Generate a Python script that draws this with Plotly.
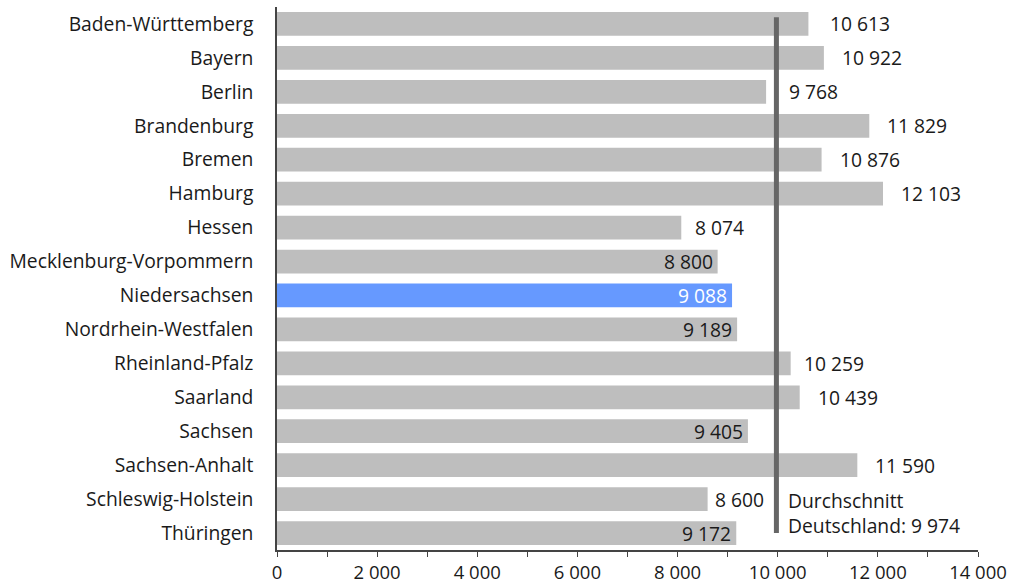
import plotly.graph_objects as go

# Bundesländer und Werte (Reihenfolge von oben nach unten)
laender = [
    "Baden-Württemberg", "Bayern", "Berlin", "Brandenburg", "Bremen", "Hamburg",
    "Hessen", "Mecklenburg-Vorpommern", "Niedersachsen", "Nordrhein-Westfalen",
    "Rheinland-Pfalz", "Saarland", "Sachsen", "Sachsen-Anhalt",
    "Schleswig-Holstein", "Thüringen",
]
werte = [10613, 10922, 9768, 11829, 10876, 12103, 8074, 8800, 9088, 9189,
         10259, 10439, 9405, 11590, 8600, 9172]
durchschnitt = 9974
hervorgehoben = "Niedersachsen"
x_ticks = [0, 2000, 4000, 6000, 8000, 10000, 12000, 14000]

GRAU = "#bebebe"
BLAU = "#6699ff"
TEXT = "#1a1a1a"
FONT = "Open Sans"
FS = 19.3

# Beschriftungen, die im Balken stehen (sonst kollidieren sie mit der Linie)
innen_beschriftet = {"Mecklenburg-Vorpommern", "Niedersachsen",
                     "Nordrhein-Westfalen", "Sachsen", "Thüringen"}
# Abstand der Außenbeschriftung zum Balkenende (px)
abstand = {"Hessen": 12, "Schleswig-Holstein": 5, "Rheinland-Pfalz": 11,
           "Berlin": 21, "Baden-Württemberg": 20}


def fmt(v):
    return f"{v:,}".replace(",", " ")


farben = [BLAU if l == hervorgehoben else GRAU for l in laender]

fig = go.Figure()
fig.add_trace(go.Bar(
    y=laender, x=werte, orientation="h",
    marker=dict(color=farben, line=dict(width=0)),
    hoverinfo="skip",
))

annotations = []
for l, v in zip(laender, werte):
    if l in innen_beschriftet:
        annotations.append(dict(
            x=v, y=l, xref="x", yref="y", text=fmt(v), showarrow=False,
            xanchor="right", xshift=-3,
            font=dict(family=FONT, size=FS, color="white" if l == hervorgehoben else TEXT),
        ))
    else:
        annotations.append(dict(
            x=v, y=l, xref="x", yref="y", text=fmt(v), showarrow=False,
            xanchor="left", xshift=abstand.get(l, 16),
            font=dict(family=FONT, size=FS, color=TEXT),
        ))

annotations.append(dict(
    x=durchschnitt, y=len(laender) - 1, xref="x", yref="y",
    text="Durchschnitt<br>Deutschland: " + fmt(durchschnitt),
    showarrow=False, xanchor="left", yanchor="bottom", align="left",
    xshift=10, yshift=-8,
    font=dict(family=FONT, size=FS, color=TEXT),
))

# Durchschnittslinie
fig.add_shape(
    type="line", xref="x", yref="y",
    x0=durchschnitt, x1=durchschnitt, y0=-0.2, y1=len(laender) - 1,
    line=dict(color="#666666", width=5),
)

n = len(laender)
fig.update_layout(
    width=1016, height=587,
    margin=dict(l=277, r=38, t=7, b=37, autoexpand=False),
    plot_bgcolor="white", paper_bgcolor="white",
    bargap=0.3, showlegend=False,
    font=dict(family=FONT, size=FS, color=TEXT),
    annotations=annotations,
    xaxis=dict(
        range=[0, 14000], tickvals=x_ticks,
        ticktext=[fmt(t) for t in x_ticks],
        showgrid=False, zeroline=False, automargin=False,
        showline=True, linecolor="#444444", linewidth=1.5,
        ticks="outside", ticklen=5, tickcolor="#444444",
        minor=dict(dtick=1000, ticks="outside", ticklen=5, tickcolor="#444444"),
        tickfont=dict(family=FONT, size=18.5, color=TEXT),
        ticklabelstandoff=0,
    ),
    yaxis=dict(
        range=[n - 0.5, -0.5], showgrid=False, zeroline=False, automargin=False,
        showline=True, linecolor="#444444", linewidth=1.5,
        ticks="", ticklabelstandoff=18,
        tickfont=dict(family=FONT, size=FS, color=TEXT),
    ),
)

fig.write_html("out.html")
